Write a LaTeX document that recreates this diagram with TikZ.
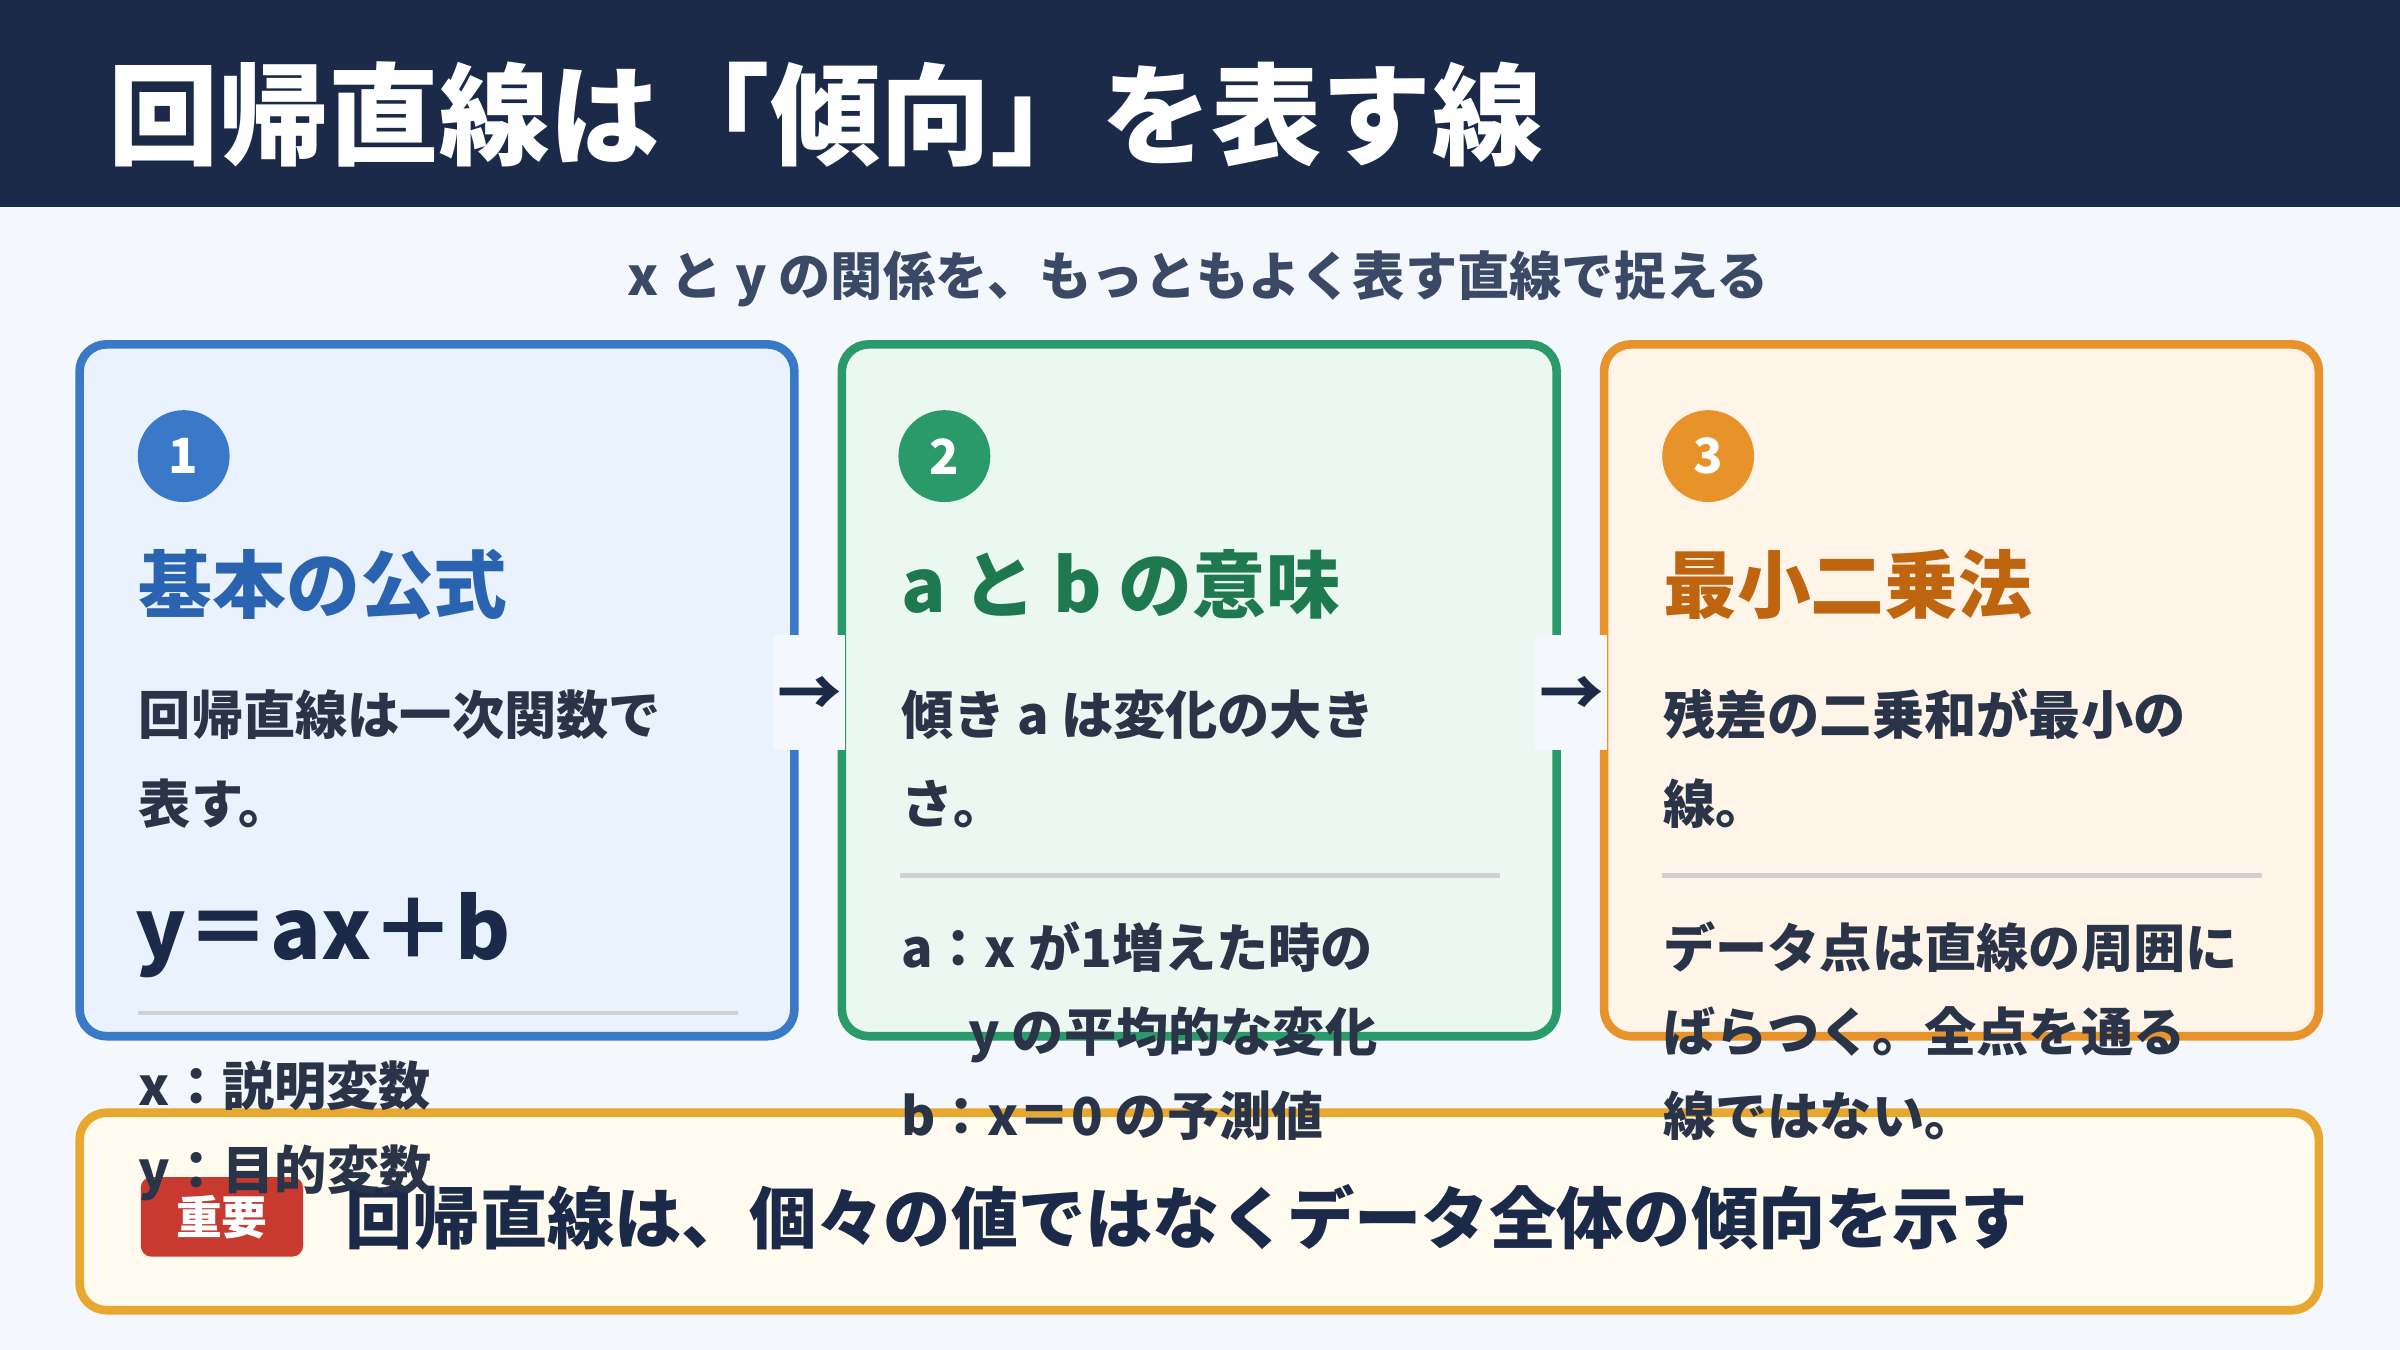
\documentclass[tikz,border=0pt]{standalone}
\usepackage{fontspec}
\setmainfont{Noto Sans CJK JP}
\definecolor{navy}{HTML}{1C2A4A}
\definecolor{bg}{HTML}{F4F7FB}
\definecolor{sub}{HTML}{3A4A66}
\definecolor{txt}{HTML}{2A3448}
\definecolor{bB}{HTML}{3A78C8}\definecolor{fB}{HTML}{EAF2FD}\definecolor{hB}{HTML}{2A64B0}
\definecolor{bG}{HTML}{2A9A6A}\definecolor{fG}{HTML}{EBF8F1}\definecolor{hG}{HTML}{1E7A4E}
\definecolor{bO}{HTML}{E8922A}\definecolor{fO}{HTML}{FEF5E8}\definecolor{hO}{HTML}{C0650F}
\definecolor{bY}{HTML}{E8A830}\definecolor{fY}{HTML}{FFFBEF}
\definecolor{red}{HTML}{C83A30}
\newcommand{\fs}[1]{\fontsize{#1}{#1}\selectfont}
\begin{document}
\begin{tikzpicture}[x=0.01cm,y=-0.01cm,
 card/.style={line width=1.6pt,rounded corners=5pt},
 body/.style={anchor=base west,inner sep=0,text=txt,font=\fs{9.7pt}\bfseries},
 head/.style={anchor=base west,inner sep=0,font=\fs{13.7pt}\bfseries},
 num/.style={circle,minimum size=0.6cm,inner sep=0,text=white,font=\fs{9pt}\bfseries},
 div/.style={draw=black!18,line width=0.8pt}]
\fill[bg] (0,0) rectangle (1568,882);
\fill[navy] (0,0) rectangle (1568,135);
\node[anchor=west,inner sep=0,text=white,font=\fs{20.5pt}\bfseries] (title) at (70,75) {回帰直線は「傾向」を表す線};
\node[text=sub,font=\fs{9.7pt}\bfseries] (subt) at (783,182) {x と y の関係を、もっともよく表す直線で捉える};
% bottom box
\draw[card,draw=bY,fill=fY] (52,727) rectangle (1515,856);
\node[fill=red,rounded corners=2pt,minimum width=1.06cm,minimum height=0.46cm,text=white,font=\fs{8.5pt}\bfseries] (badge) at (145,795) {重要};
\node[anchor=west,inner sep=0,text=navy,font=\fs{12.5pt}\bfseries] (key) at (225,795) {回帰直線は、個々の値ではなくデータ全体の傾向を示す};
% cards
\draw[card,draw=bB,fill=fB] (52,225) rectangle (519,677);
\draw[card,draw=bG,fill=fG] (550,225) rectangle (1017,677);
\draw[card,draw=bO,fill=fO] (1048,225) rectangle (1515,677);
% arrows
\fill[bg] (505,415) rectangle (552,490);
\fill[bg] (1003,415) rectangle (1050,490);
\node[text=navy,font=\fs{12pt}\bfseries] (a1) at (529,455) {→};
\node[text=navy,font=\fs{12pt}\bfseries] (a2) at (1027,455) {→};
% card 1
\node[num,fill=bB] (n1) at (120,298) {1};
\node[head,text=hB] (h1) at (90,400) {基本の公式};
\node[body] (t11) at (90,480) {回帰直線は一次関数で};
\node[body] (t12) at (90,538) {表す。};
\node[anchor=base west,inner sep=0,text=navy,font=\fs{15.6pt}\bfseries] (f1) at (88,627) {y＝ax＋b};
\draw[div] (90,662) -- (482,662);
\node[body] (t13) at (90,722) {x：説明変数};
\node[body] (t14) at (90,777) {y：目的変数};
% card 2
\node[num,fill=bG] (n2) at (617,298) {2};
\node[head,text=hG] (h2) at (588,400) {a と b の意味};
\node[body] (t21) at (588,480) {傾き a は変化の大き};
\node[body] (t22) at (588,538) {さ。};
\draw[div] (588,572) -- (980,572);
\node[body] (t23) at (588,632) {a：x が1増えた時の};
\node[body] (t24) at (632,687) {y の平均的な変化};
\node[body] (t25) at (588,742) {b：x＝0 の予測値};
% card 3
\node[num,fill=bO] (n3) at (1116,298) {3};
\node[head,text=hO] (h3) at (1086,400) {最小二乗法};
\node[body] (t31) at (1086,480) {残差の二乗和が最小の};
\node[body] (t32) at (1086,538) {線。};
\draw[div] (1086,572) -- (1478,572);
\node[body] (t33) at (1086,632) {データ点は直線の周囲に};
\node[body] (t34) at (1086,687) {ばらつく。全点を通る};
\node[body] (t35) at (1086,742) {線ではない。};
\end{tikzpicture}
\end{document}
